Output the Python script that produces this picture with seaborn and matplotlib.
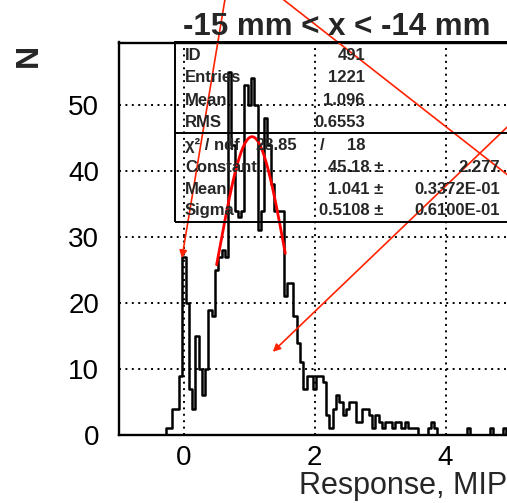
import numpy as np
import pandas as pd
import matplotlib
matplotlib.use("Agg")
import matplotlib.pyplot as plt
import seaborn as sns
from matplotlib.patches import Rectangle
from matplotlib.lines import Line2D
from matplotlib.ticker import MultipleLocator, FixedLocator

# ---------------- data ----------------
title = "-15 mm < x < -14 mm"
x_label = "Response, MIP"
y_label = "N"

bin_lo = -1.025
bin_width = 0.05
n_bins = 120
counts = [
    0, 0, 0, 0, 0, 0, 0, 0, 0, 0,          # 0-9
    0, 0, 0, 0, 0, 1, 1, 4, 4, 9,          # 10-19
    27, 20, 7, 4, 15, 10, 6, 10, 19, 18,   # 20-29
    25, 27, 28, 27, 55, 44, 34, 33, 34, 53,  # 30-39
    50, 54, 50, 31, 34, 48, 44, 38, 34, 34,  # 40-49
    34, 21, 23, 23, 18, 14, 11, 7, 9, 9,   # 50-59
    7, 9, 9, 8, 3, 1, 4, 6, 5, 3,          # 60-69
    4, 5, 5, 2, 2, 4, 4, 3, 1, 3,          # 70-79
    2, 1, 2, 2, 1, 2, 2, 1, 2, 1,          # 80-89
    1, 1, 0, 0, 0, 1, 2, 1, 0, 0,          # 90-99
    0, 0, 0, 0, 0, 0, 0, 1, 0, 0,          # 100-109
    0, 0, 0, 0, 1, 0, 0, 0, 1, 0,          # 110-119
]

# Gaussian fit parameters (as printed in the stats box)
fit_const = 45.18
fit_mean = 1.041
fit_sigma = 0.5108
fit_range = (0.50, 1.55)

stats_labels = ["ID", "Entries", "Mean", "RMS", "χ² / ndf", "Constant", "Mean", "Sigma"]
stats_values = ["491", "1221", "1.096", "0.6553", "18", "45.18 ±", "1.041 ±", "0.5108 ±"]
stats_errors = ["", "", "", "", "", "2.277", "0.3372E-01", "0.6100E-01"]
chi2_value = "28.85"

x_major = [0, 2, 4]
# red annotation lines (data coordinates): (start, end, has_head)
red_lines = [
    ((0.695, 70.0), (-0.031, 26.8), True),
    ((0.998, 70.0), (5.30, 36.66), False),
    ((5.30, 50.05), (1.359, 12.6), True),
]

# ---------------- figure ----------------
sns.set_style("white")
plt.rcParams["font.family"] = ["Liberation Sans", "DejaVu Sans"]

W, H = 507, 503
fig = plt.figure(figsize=(W / 100, H / 100), dpi=100)


def fx(px):
    return px / W


def fy(py):
    return 1 - py / H


ax = fig.add_axes([fx(118.5), fy(435), (511 - 118.5) / W, (435 - 42.5) / H])

centers = bin_lo + bin_width * (np.arange(n_bins) + 0.5)
df = pd.DataFrame({"response": centers, "n": np.asarray(counts, dtype=float)})
sns.histplot(data=df, x="response", weights="n", binwidth=bin_width,
             binrange=(bin_lo, bin_lo + bin_width * n_bins), element="step",
             fill=False, color="black", linewidth=1.8, ax=ax)

fx_vals = np.linspace(fit_range[0], fit_range[1], 300)
fy_vals = fit_const * np.exp(-0.5 * ((fx_vals - fit_mean) / fit_sigma) ** 2)
sns.lineplot(x=fx_vals, y=fy_vals, color="#ff0000", linewidth=2.0, ax=ax)

ax.set_xlim(-1, 5)
ax.set_ylim(0, 59.45)
ax.set_xlabel("")
ax.set_ylabel("")

ax.xaxis.set_major_locator(FixedLocator(x_major))
ax.xaxis.set_minor_locator(MultipleLocator(0.5))
ax.yaxis.set_major_locator(MultipleLocator(10))
ax.yaxis.set_minor_locator(MultipleLocator(2))
ax.tick_params(which="both", direction="in", width=1.6, colors="black",
               top=False, right=False, labelsize=20)
ax.tick_params(axis="x", which="major", length=12, pad=7)
ax.tick_params(axis="x", which="minor", length=6)
ax.tick_params(axis="y", which="major", length=11, pad=14)
ax.tick_params(axis="y", which="minor", length=6.5)

ax.grid(which="major", color="black", linestyle=(0, (1, 2.3)), linewidth=1.4)
ax.set_axisbelow(True)
for s in ax.spines.values():
    s.set_linewidth(1.7)
    s.set_color("black")

# red lines / arrows
arrow_color = "#ff2200"
for start, end, head in red_lines:
    ax.annotate("", xy=end, xytext=start, xycoords="data", textcoords="data",
                annotation_clip=False, zorder=6,
                arrowprops=dict(arrowstyle="-|>" if head else "-",
                                color=arrow_color, lw=1.2, mutation_scale=11,
                                shrinkA=0, shrinkB=0))

# texts
fig.text(fx(337), fy(35), title, ha="center", va="baseline", fontsize=22.5,
         fontweight="bold")
fig.text(fx(29), fy(55), y_label, rotation=90, ha="center", va="center",
         fontsize=23, fontweight="bold")
fig.text(fx(507), fy(494), x_label, ha="right", va="baseline", fontsize=22)

# stats box
fig.add_artist(Rectangle((fx(175), fy(222)), (520 - 175) / W, (222 - 42.5) / H,
                         transform=fig.transFigure, fill=False, lw=1.4,
                         ec="black", zorder=5))
fig.add_artist(Line2D([fx(175), fx(520)], [fy(133), fy(133)],
                      transform=fig.transFigure, lw=1.4, color="black", zorder=5))

row_base = [60, 82, 105, 127, 150, 172, 194, 215]
fs = 12
fw = "bold"
for i, (lab, val, err) in enumerate(zip(stats_labels, stats_values, stats_errors)):
    yb = fy(row_base[i])
    fig.text(fx(185), yb, lab, ha="left", va="baseline", fontsize=fs,
             fontweight=fw, zorder=7)
    if i < 5:
        fig.text(fx(365), yb, val, ha="right", va="baseline", fontsize=fs,
                 fontweight=fw, zorder=7)
    else:
        fig.text(fx(383), yb, val, ha="right", va="baseline", fontsize=fs,
                 fontweight=fw, zorder=7)
        fig.text(fx(500), yb, err, ha="right", va="baseline", fontsize=fs,
                 fontweight=fw, zorder=7)
    if i == 4:
        fig.text(fx(297), yb, chi2_value, ha="right", va="baseline", fontsize=fs,
                 fontweight=fw, zorder=7)
        fig.text(fx(320), yb, "/", ha="left", va="baseline", fontsize=fs,
                 fontweight=fw, zorder=7)

fig.savefig("out.png", dpi=100)
